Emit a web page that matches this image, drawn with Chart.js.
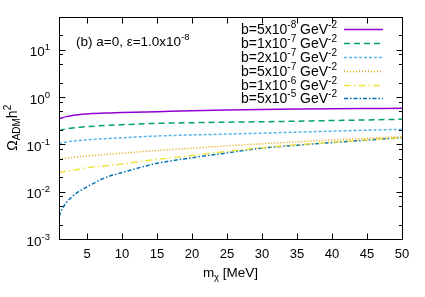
<!DOCTYPE html>
<html><head><meta charset="utf-8">
<script src="https://cdn.jsdelivr.net/npm/chart.js@4.4.0/dist/chart.umd.min.js"></script>
<style>html,body{margin:0;padding:0;background:#fff}</style>
</head><body>
<canvas id="c" width="425" height="297" style="display:block;width:425px;height:297px"></canvas>
<script>
// ---- data ----
const masses = [1, 1.5, 2, 3, 4, 5, 7.5, 10, 15, 20, 25, 30, 35, 40, 45, 50];
const omega_b5e8 = [0.343, 0.365, 0.385, 0.41, 0.428, 0.438, 0.458, 0.468, 0.49, 0.515, 0.532, 0.545, 0.555, 0.563, 0.57, 0.577];
const omega_b1e7 = [0.194, 0.204, 0.212, 0.222, 0.23, 0.236, 0.25, 0.26, 0.278, 0.287, 0.294, 0.30, 0.309, 0.318, 0.328, 0.338];
const omega_b2e7 = [0.105, 0.109, 0.112, 0.117, 0.121, 0.124, 0.132, 0.138, 0.150, 0.158, 0.165, 0.172, 0.181, 0.19, 0.199, 0.208];
const omega_b5e7 = [0.049, 0.050, 0.051, 0.053, 0.055, 0.057, 0.061, 0.065, 0.074, 0.083, 0.093, 0.103, 0.113, 0.124, 0.134, 0.145];
const omega_b1e6 = [0.0257, 0.0263, 0.027, 0.0285, 0.030, 0.0321, 0.035, 0.0384, 0.0483, 0.058, 0.071, 0.085, 0.098, 0.111, 0.125, 0.140];
const omega_b5e5 = [0.0030, 0.0044, 0.0057, 0.0082, 0.0105, 0.0126, 0.0195, 0.0253, 0.0397, 0.052, 0.066, 0.083, 0.096, 0.109, 0.123, 0.138];
const legendMant = ['5', '1', '2', '5', '1', '5'];
const legendExp = ['-8', '-7', '-7', '-7', '-6', '-5'];
const xTicks = [5, 10, 15, 20, 25, 30, 35, 40, 45, 50];
const yTickExps = [-3, -2, -1, 0, 1];
const yMinorMults = [2, 5, 8];

const seriesValues = [omega_b5e8, omega_b1e7, omega_b2e7, omega_b5e7, omega_b1e6, omega_b5e5];
const colors = ['#9400D3', '#009E73', '#56B4E9', '#E69F00', '#F0E442', '#0072B2'];
const dashes = [[], [6, 4], [3, 2], [1, 2], [7, 3, 1.5, 3], [4, 2, 1.5, 2]];

const FONT = '"Liberation Sans", Arial, Helvetica, sans-serif';
function f(sz){ return sz + 'px ' + FONT; }

function pieces(ctx, list, x, y, measureOnly){
  let w = 0;
  for (const [t, sz, dy] of list){
    ctx.font = f(sz);
    if (!measureOnly) ctx.fillText(t, x + w, y + dy);
    w += ctx.measureText(t).width;
  }
  return w;
}

const deco = {
  id: 'deco',
  afterDraw(chart){
    const ctx = chart.ctx, a = chart.chartArea, xs = chart.scales.x, ys = chart.scales.y;
    ctx.save();
    ctx.strokeStyle = '#000'; ctx.fillStyle = '#000'; ctx.lineWidth = 1;
    const L = Math.round(a.left) + 0.5, R = Math.round(a.right) + 0.5,
          T = Math.round(a.top) + 0.5, B = Math.round(a.bottom) + 0.5;
    ctx.strokeRect(L, T, R - L, B - T);
    ctx.beginPath();
    for (const v of xTicks){
      const px = Math.round(xs.getPixelForValue(v)) + 0.5;
      ctx.moveTo(px, B); ctx.lineTo(px, B - 6);
      ctx.moveTo(px, T); ctx.lineTo(px, T + 6);
    }
    for (const e of yTickExps){
      const py = Math.round(ys.getPixelForValue(Math.pow(10, e))) + 0.5;
      ctx.moveTo(L, py); ctx.lineTo(L + 6, py);
      ctx.moveTo(R, py); ctx.lineTo(R - 6, py);
      for (const m of yMinorMults){
        const v = m * Math.pow(10, e);
        if (v >= ys.min && v <= ys.max){
          const q = Math.round(ys.getPixelForValue(v)) + 0.5;
          ctx.moveTo(L, q); ctx.lineTo(L + 3.5, q);
          ctx.moveTo(R, q); ctx.lineTo(R - 3.5, q);
        }
      }
    }
    ctx.stroke();

    ctx.textBaseline = 'alphabetic';
    for (const e of yTickExps){
      const py = ys.getPixelForValue(Math.pow(10, e));
      const list = [['10', 13.5, 0], [String(e), 9.5, -6]];
      const w = pieces(ctx, list, 0, 0, true);
      pieces(ctx, list, 50 - w, py + 6.5, false);
    }
    ctx.font = f(13); ctx.textAlign = 'center';
    for (const v of xTicks){
      ctx.fillText(String(v), xs.getPixelForValue(v), 258);
    }
    ctx.textAlign = 'left';
    {
      const list = [['m', 13.5, 0], ['\u03C7', 9.5, 3], [' [MeV]', 13.5, 0]];
      const w = pieces(ctx, list, 0, 0, true);
      pieces(ctx, list, (a.left + a.right) / 2 - w / 2, 277, false);
    }
    {
      const list = [['\u03A9', 14, 0], ['ADM', 10, 3], ['h', 14, 0], ['2', 10, -6]];
      const w = pieces(ctx, list, 0, 0, true);
      ctx.save();
      ctx.translate(17, (a.top + a.bottom) / 2);
      ctx.rotate(-Math.PI / 2);
      pieces(ctx, list, -w / 2, 0, false);
      ctx.restore();
    }
    pieces(ctx, [['(b) a=0, \u03B5=1.0x10', 13.5, 0], ['-8', 9.5, -6]], 76, 46, false);
    chart.data.datasets.forEach((ds, i) => {
      const ly = 29.3 + i * 13.8;
      const list = [['b=' + legendMant[i] + 'x10', 14, 0], [legendExp[i], 10, -6], [' GeV', 14, 0], ['-2', 10, -6]];
      const w = pieces(ctx, list, 0, 0, true);
      pieces(ctx, list, 337 - w, ly + 5, false);
      ctx.save();
      ctx.strokeStyle = ds.borderColor; ctx.lineWidth = ds.borderWidth;
      ctx.setLineDash(ds.borderDash || []);
      ctx.beginPath(); ctx.moveTo(344, Math.round(ly) + 0.5); ctx.lineTo(383, Math.round(ly) + 0.5); ctx.stroke();
      ctx.restore();
    });
    ctx.restore();
  }
};

new Chart(document.getElementById('c'), {
  type: 'line',
  data: {
    datasets: seriesValues.map((vals, i) => ({
      label: 'b=' + legendMant[i] + 'x10^' + legendExp[i] + ' GeV^-2',
      data: masses.map((m, j) => ({x: m, y: vals[j]})),
      borderColor: colors[i],
      borderWidth: 1.5,
      borderDash: dashes[i],
      pointRadius: 0,
      fill: false,
      cubicInterpolationMode: 'monotone'
    }))
  },
  options: {
    responsive: false,
    animation: false,
    devicePixelRatio: 1,
    layout: {padding: {left: 0, right: 23, top: 16.6, bottom: 0}},
    plugins: {legend: {display: false}, tooltip: {enabled: false}},
    scales: {
      x: {type: 'linear', min: 1, max: 50, grid: {display: false}, border: {display: false},
          ticks: {display: false}, afterFit(s){ s.height = 58; }},
      y: {type: 'logarithmic', min: 0.001, max: 50, grid: {display: false}, border: {display: false},
          ticks: {display: false}, afterFit(s){ s.width = 59; }}
    }
  },
  plugins: [deco]
});
</script>
</body></html>
